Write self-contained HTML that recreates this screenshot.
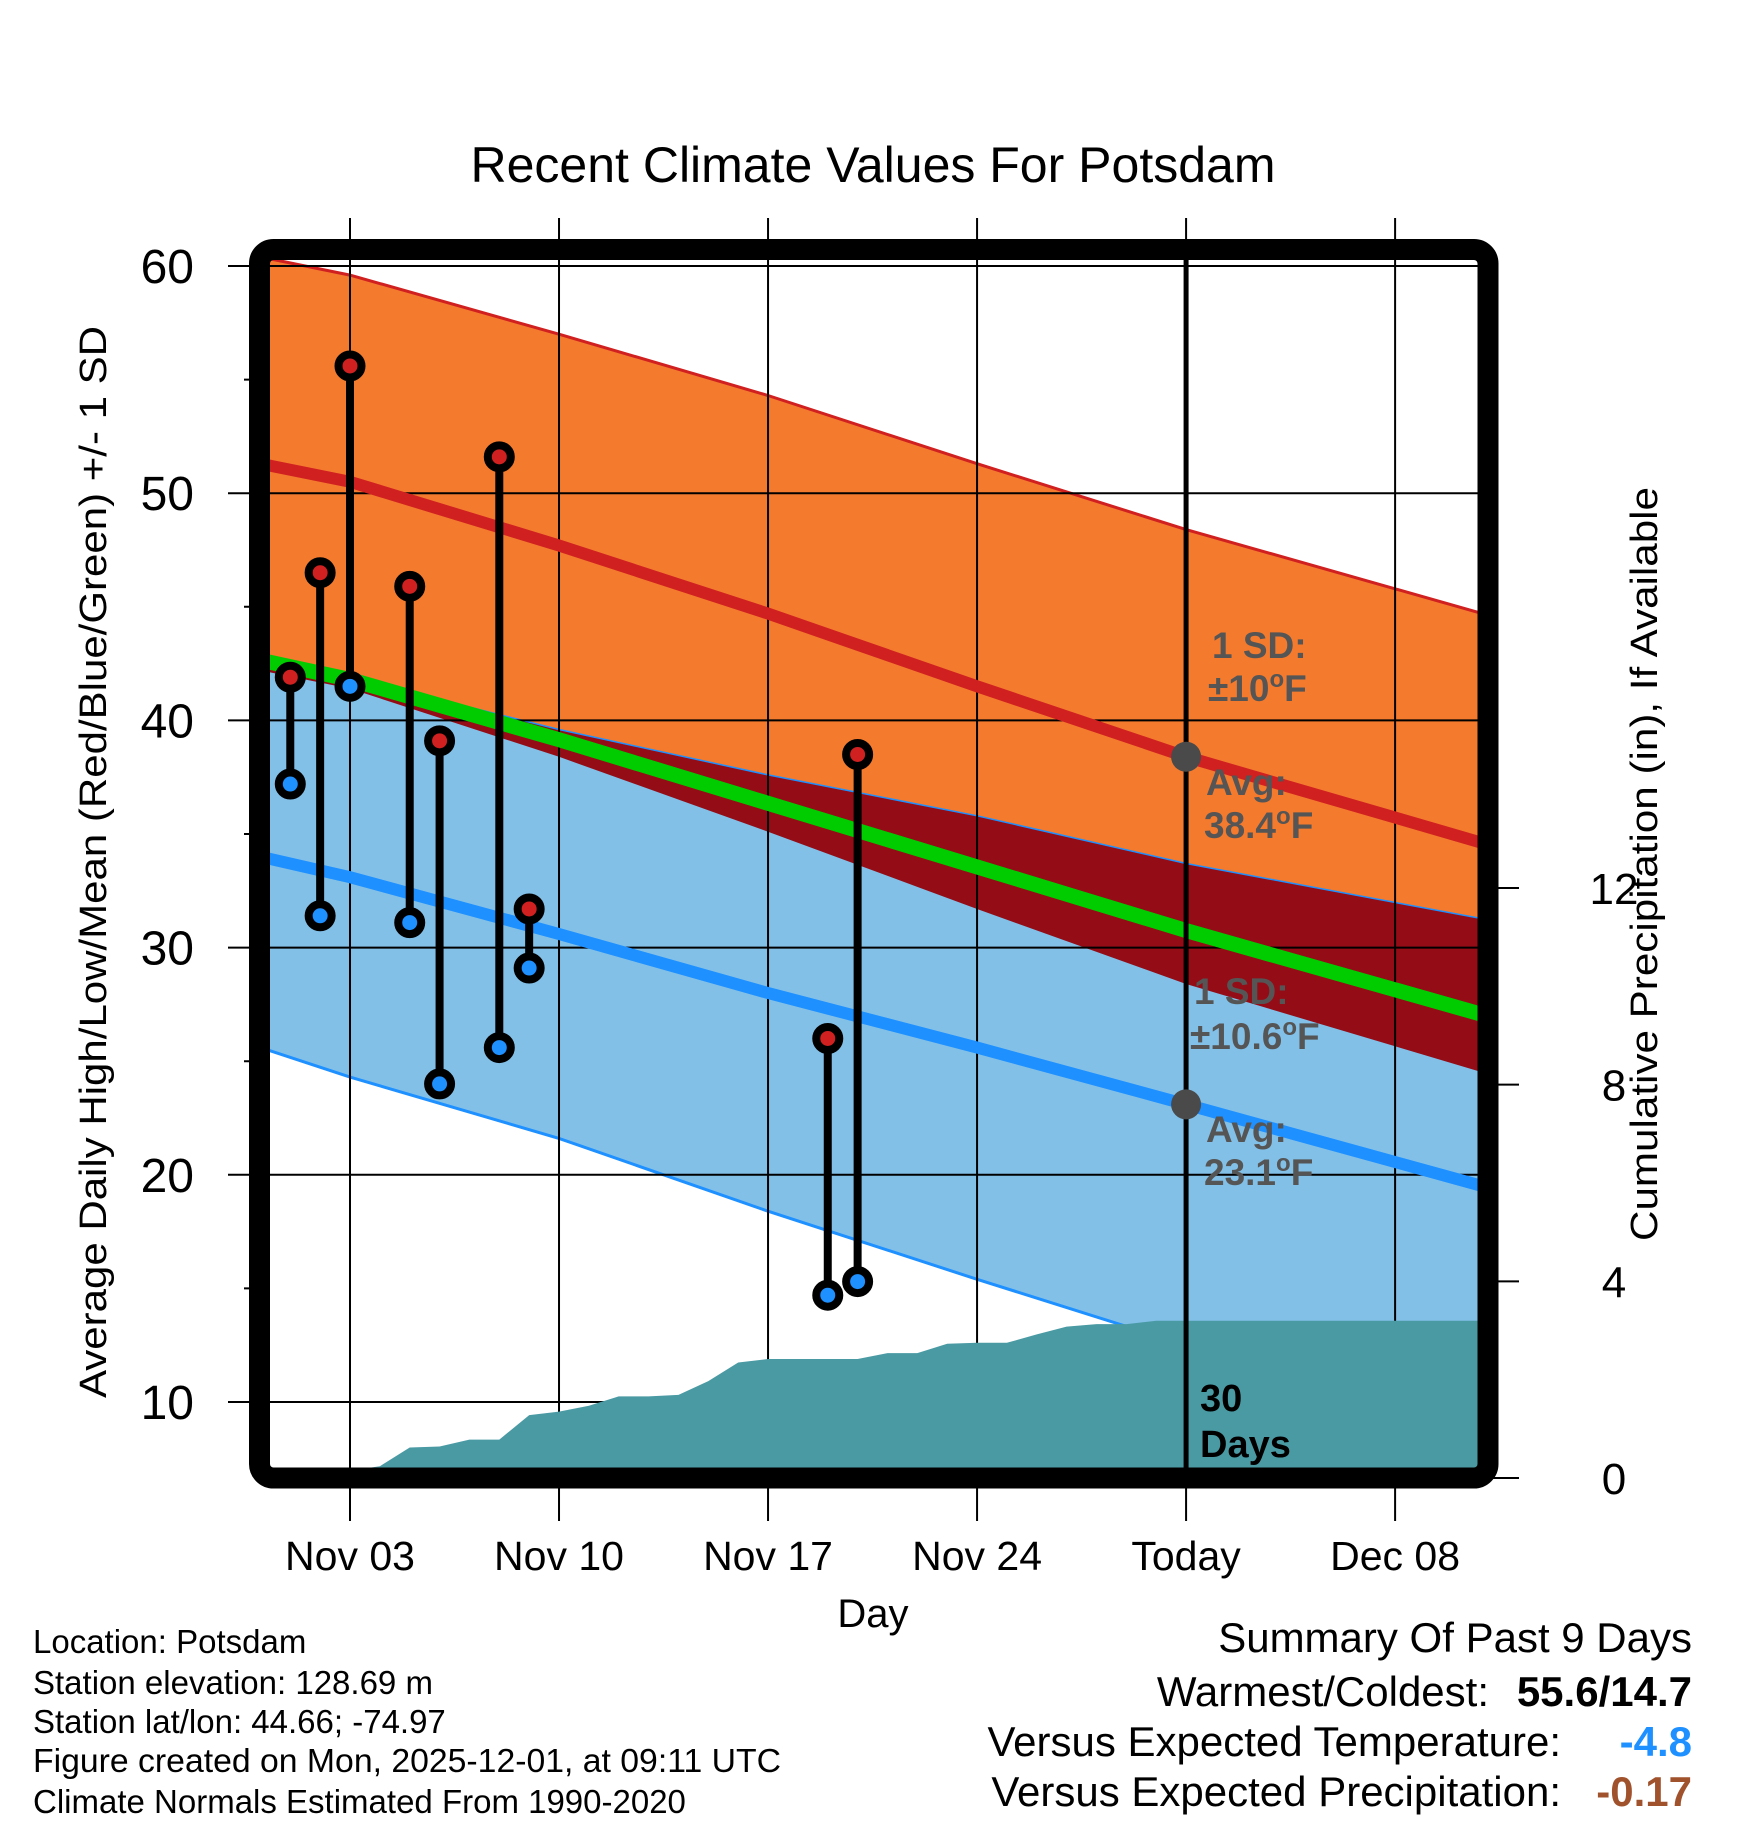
<!DOCTYPE html>
<html><head><meta charset="utf-8"><style>
html,body{margin:0;padding:0;background:#fff;}
svg{display:block;font-family:"Liberation Sans",Arial,sans-serif;}
</style></head><body>
<svg id="chart" width="1748" height="1828" viewBox="0 0 1748 1828" xmlns="http://www.w3.org/2000/svg">
<defs><clipPath id="plotclip"><rect x="260" y="250" width="1228" height="1228"/></clipPath></defs>
<g id="fills" clip-path="url(#plotclip)"></g>
<g id="grid"></g>
<g id="precip" clip-path="url(#plotclip)"></g>
<g id="lines" clip-path="url(#plotclip)"></g>
<g id="obs"></g>
<rect x="259.5" y="249.5" width="1228.5" height="1228.5" rx="14" fill="none" stroke="#000" stroke-width="21"/>
<g id="axes"></g>
<text x="873" y="182" font-size="50" text-anchor="middle">Recent Climate Values For Potsdam</text>
<text x="873" y="1627" font-size="40" text-anchor="middle">Day</text>
<text transform="translate(106,862) rotate(-90)" font-size="38" text-anchor="middle" textLength="1072" lengthAdjust="spacingAndGlyphs">Average Daily High/Low/Mean (Red/Blue/Green) +/- 1 SD</text>
<text transform="translate(1657,864) rotate(-90)" font-size="38" text-anchor="middle" textLength="754" lengthAdjust="spacingAndGlyphs">Cumulative Precipitation (in), If Available</text>
<g font-size="37" font-weight="bold" fill="#555">
<text x="1212" y="658">1 SD:</text>
<text x="1208" y="701">±10<tspan font-size="24" dy="-14">o</tspan><tspan dy="14">F</tspan></text>
<text x="1206" y="795">Avg:</text>
<text x="1204" y="838">38.4<tspan font-size="24" dy="-14">o</tspan><tspan dy="14">F</tspan></text>
<text x="1194" y="1004">1 SD:</text>
<text x="1190" y="1049">±10.6<tspan font-size="24" dy="-14">o</tspan><tspan dy="14">F</tspan></text>
<text x="1206" y="1142">Avg:</text>
<text x="1204" y="1185">23.1<tspan font-size="24" dy="-14">o</tspan><tspan dy="14">F</tspan></text>
</g>
<g font-size="38" font-weight="bold" fill="#000">
<text x="1200" y="1411">30</text><text x="1200" y="1457">Days</text>
</g>
<g font-size="33" fill="#000">
<text x="33" y="1653">Location: Potsdam</text>
<text x="33" y="1694">Station elevation: 128.69 m</text>
<text x="33" y="1733">Station lat/lon: 44.66; -74.97</text>
<text x="33" y="1772" textLength="748" lengthAdjust="spacingAndGlyphs">Figure created on Mon, 2025-12-01, at 09:11 UTC</text>
<text x="33" y="1813">Climate Normals Estimated From 1990-2020</text>
</g>
<g font-size="42" fill="#000">
<text x="1692" y="1652" text-anchor="end">Summary Of Past 9 Days</text>
<text x="1489" y="1706" text-anchor="end">Warmest/Coldest:</text>
<text x="1692" y="1706" text-anchor="end" font-weight="bold">55.6/14.7</text>
<text x="1561" y="1756" text-anchor="end">Versus Expected Temperature:</text>
<text x="1692" y="1756" text-anchor="end" font-weight="bold" fill="#1E90FF">-4.8</text>
<text x="1561" y="1806" text-anchor="end">Versus Expected Precipitation:</text>
<text x="1692" y="1806" text-anchor="end" font-weight="bold" fill="#A0522D">-0.17</text>
</g>
</svg>
<script>
// Normals (day index: 0 = Oct 31, 3 = Nov 03, 31 = Dec 01 "Today")
const normDays = [0, 3, 10, 17, 24, 31, 41.2];
const highAvg = [51.3, 50.5, 47.7, 44.7, 41.5, 38.4, 34.5];
const highSD = [9.1, 9.1, 9.3, 9.6, 9.8, 10.0, 10.1];
const lowAvg = [34.0, 33.1, 30.6, 28.0, 25.6, 23.1, 19.4];
const lowSD = [8.4, 8.8, 9.0, 9.6, 10.2, 10.6, 11.8];
// Observations
const obsDays = [1, 2, 3, 5, 6, 8, 9, 19, 20];
const obsHigh = [41.9, 46.5, 55.6, 45.9, 39.1, 51.6, 31.7, 26.0, 38.5];
const obsLow = [37.2, 31.4, 41.5, 31.1, 24.0, 25.6, 29.1, 14.7, 15.3];
// Cumulative precipitation (in), by day index 0..31
const precipDays = [0,1,2,3,4,5,6,7,8,9,10,11,12,13,14,15,16,17,18,19,20,21,22,23,24,25,26,27,28,29,30,31,41.2];
const precipCum = [0,0,0,0.15,0.24,0.62,0.64,0.78,0.78,1.28,1.35,1.47,1.66,1.66,1.69,1.97,2.35,2.42,2.42,2.42,2.42,2.54,2.54,2.73,2.75,2.75,2.92,3.08,3.13,3.13,3.2,3.2,3.2];
// Axes
const tickDays = [3, 10, 17, 24, 31, 38];
const tickLabels = ["Nov 03", "Nov 10", "Nov 17", "Nov 24", "Today", "Dec 08"];
const yTicks = [10, 20, 30, 40, 50, 60];
const yMinor = [15, 25, 35, 45, 55];
const y2Ticks = [0, 4, 8, 12];
const todayDay = 31;

const NS = "http://www.w3.org/2000/svg";
const X = d => 350 + (d - 3) * 29.86;
const Y = t => 266 + (60 - t) * 22.72;
const Y2 = p => 1478 - p * 49.17;
function mk(tag, attrs, parent) {
  const e = document.createElementNS(NS, tag);
  for (const k in attrs) e.setAttribute(k, attrs[k]);
  parent.appendChild(e);
  return e;
}
const fills = document.getElementById('fills');
const grid = document.getElementById('grid');
const precip = document.getElementById('precip');
const lines = document.getElementById('lines');
const obs = document.getElementById('obs');
const axes = document.getElementById('axes');

const pts = (arr) => arr.map(p => p[0].toFixed(1) + ',' + p[1].toFixed(1)).join(' ');
const hiU = normDays.map((d, i) => [X(d), Y(highAvg[i] + highSD[i])]);
const hiL = normDays.map((d, i) => [X(d), Y(highAvg[i] - highSD[i])]);
const loU = normDays.map((d, i) => [X(d), Y(lowAvg[i] + lowSD[i])]);
const loL = normDays.map((d, i) => [X(d), Y(lowAvg[i] - lowSD[i])]);

let e = mk('polygon', {points: pts(hiU.concat(hiL.slice().reverse())), fill: '#F47A2E'}, fills);


e = mk('polygon', {points: pts(loU.concat(loL.slice().reverse())), fill: '#82C0E8'}, fills);


const ov = normDays.map((d, i) => [X(d), Y(Math.min(highAvg[i] - highSD[i], lowAvg[i] + lowSD[i]))]);
e = mk('polygon', {points: pts(loU.concat(ov.slice().reverse())), fill: '#940C16'}, fills);


e = mk('polyline', {points: pts(hiU), fill: 'none', stroke: '#D02020', 'stroke-width': 3}, fills);


e = mk('polyline', {points: pts(loL), fill: 'none', stroke: '#1E90FF', 'stroke-width': 3}, fills);


e = mk('polyline', {points: pts(loU), fill: 'none', stroke: '#1E90FF', 'stroke-width': 1.5}, fills);



yTicks.forEach(t => {
  const g = mk('line', {x1: 228, x2: 1488, y1: Y(t), y2: Y(t), stroke: '#000', 'stroke-width': 2}, grid);
  
  
});
yMinor.forEach(t => {
  const g = mk('line', {x1: 244, x2: 262, y1: Y(t), y2: Y(t), stroke: '#000', 'stroke-width': 2}, grid);
  
  
});
tickDays.forEach(d => {
  const g = mk('line', {x1: X(d), x2: X(d), y1: 218, y2: 1521, stroke: '#000', 'stroke-width': 2}, grid);
  
  
});

const pp = precipDays.map((d, i) => [X(d), Y2(precipCum[i])]);
pp.push([X(precipDays[precipDays.length - 1]), Y2(0)], [X(0), Y2(0)]);
e = mk('polygon', {points: pts(pp), fill: '#4A9AA4'}, precip);



const hiLine = normDays.map((d, i) => [X(d), Y(highAvg[i])]);
const loLine = normDays.map((d, i) => [X(d), Y(lowAvg[i])]);
const meanLine = normDays.map((d, i) => [X(d), Y((highAvg[i] + lowAvg[i]) / 2)]);
e = mk('polyline', {points: pts(meanLine), fill: 'none', stroke: '#00CC00', 'stroke-width': 15}, lines);


e = mk('polyline', {points: pts(hiLine), fill: 'none', stroke: '#D02020', 'stroke-width': 12}, lines);


e = mk('polyline', {points: pts(loLine), fill: 'none', stroke: '#1E90FF', 'stroke-width': 12}, lines);


e = mk('line', {x1: X(todayDay), x2: X(todayDay), y1: 250, y2: 1478, stroke: '#000', 'stroke-width': 5}, lines);


function interp(arr, d) {
  for (let i = 0; i < normDays.length - 1; i++) {
    if (d >= normDays[i] && d <= normDays[i + 1]) {
      const f = (d - normDays[i]) / (normDays[i + 1] - normDays[i]);
      return arr[i] + f * (arr[i + 1] - arr[i]);
    }
  }
  return arr[arr.length - 1];
}
e = mk('circle', {cx: X(todayDay), cy: Y(interp(highAvg, todayDay)), r: 15, fill: '#4a4a4a'}, lines);


e = mk('circle', {cx: X(todayDay), cy: Y(interp(lowAvg, todayDay)), r: 15, fill: '#4a4a4a'}, lines);



obsDays.forEach((d, i) => {
  const b = mk('line', {x1: X(d), x2: X(d), y1: Y(obsHigh[i]), y2: Y(obsLow[i]), stroke: '#000', 'stroke-width': 8}, obs);
  
  
});
obsDays.forEach((d, i) => {
  const h = mk('circle', {cx: X(d), cy: Y(obsHigh[i]), r: 11.5, fill: '#D02020', stroke: '#000', 'stroke-width': 8}, obs);
  
  
  const l = mk('circle', {cx: X(d), cy: Y(obsLow[i]), r: 11.5, fill: '#1E90FF', stroke: '#000', 'stroke-width': 8}, obs);
  
  
});

yTicks.forEach(t => {
  const tx = mk('text', {x: 194, y: Y(t) + 17, 'font-size': 48, 'text-anchor': 'end'}, axes);
  tx.textContent = t;
  
  
});
tickDays.forEach((d, i) => {
  const tx = mk('text', {x: X(d), y: 1570, 'font-size': 41, 'text-anchor': 'middle'}, axes);
  tx.textContent = tickLabels[i];
  
  
});
y2Ticks.forEach(p => {
  const tk = mk('line', {x1: 1488, x2: 1519, y1: Y2(p), y2: Y2(p), stroke: '#000', 'stroke-width': 2}, axes);
  
  
  const tx = mk('text', {x: 1614, y: Y2(p) + 16, 'font-size': 44, 'text-anchor': 'middle'}, axes);
  tx.textContent = p;
  
  
});
</script>
</body></html>
